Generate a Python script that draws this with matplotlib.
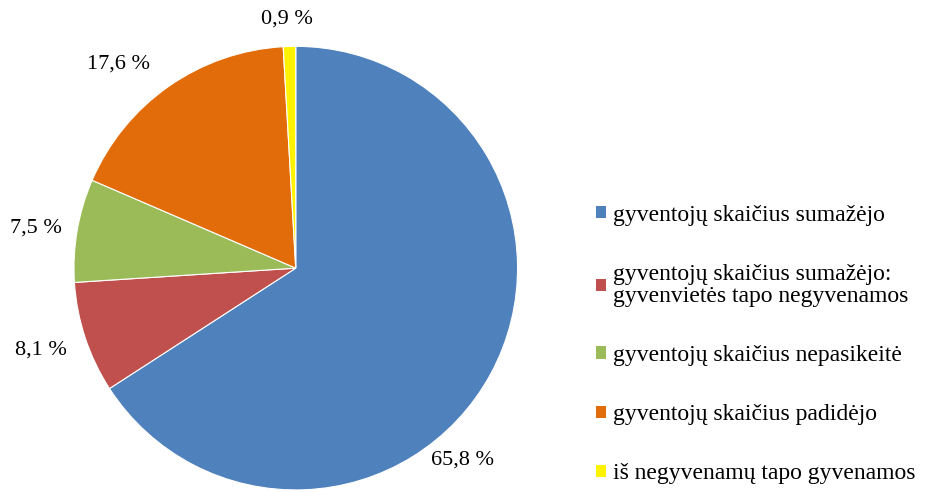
import matplotlib.pyplot as plt
from matplotlib.patches import Patch

labels = ["gyventojų skaičius sumažėjo",
          "gyventojų skaičius sumažėjo:\ngyvenvietės tapo negyvenamos",
          "gyventojų skaičius nepasikeitė",
          "gyventojų skaičius padidėjo",
          "iš negyvenamų tapo gyvenamos"]
values = [65.8, 8.1, 7.5, 17.6, 0.9]
pct_text = ["65,8 %", "8,1 %", "7,5 %", "17,6 %", "0,9 %"]
colors = ["#4F81BD", "#C0504D", "#9BBB59", "#E36C0A", "#FFF200"]
# label positions (in pie radii), Excel-like placement
label_pos = [(0.75, -0.865), (-1.15, -0.37), (-1.17, 0.18), (-0.80, 0.92), (-0.04, 1.125)]

plt.rcParams['font.family'] = ['Liberation Serif', 'DejaVu Serif']

fig = plt.figure(figsize=(9.28, 4.92), dpi=100)
ax = fig.add_axes([0.0797, 0.004, 0.478, 0.902])
wedges, _ = ax.pie(values, colors=colors, startangle=90, counterclock=False,
                   wedgeprops=dict(edgecolor='white', linewidth=0.8))
ax.set_xlim(-1, 1)
ax.set_ylim(-1, 1)
ax.set_aspect('equal')

for t, (x, y) in zip(pct_text, label_pos):
    ax.text(x, y, t, ha='center', va='center', fontsize=16, clip_on=False)

handles = [Patch(facecolor=c, edgecolor='none') for c in colors]
leg = fig.legend(handles, labels, loc='upper left', bbox_to_anchor=(0.642, 0.584),
                 frameon=False, fontsize=17, handlelength=0.43, handleheight=0.43,
                 handletextpad=0.3, labelspacing=1.62, borderpad=0, borderaxespad=0)
for txt in leg.get_texts():
    txt.set_linespacing(1.05)

fig.savefig("out.png", dpi=100)
